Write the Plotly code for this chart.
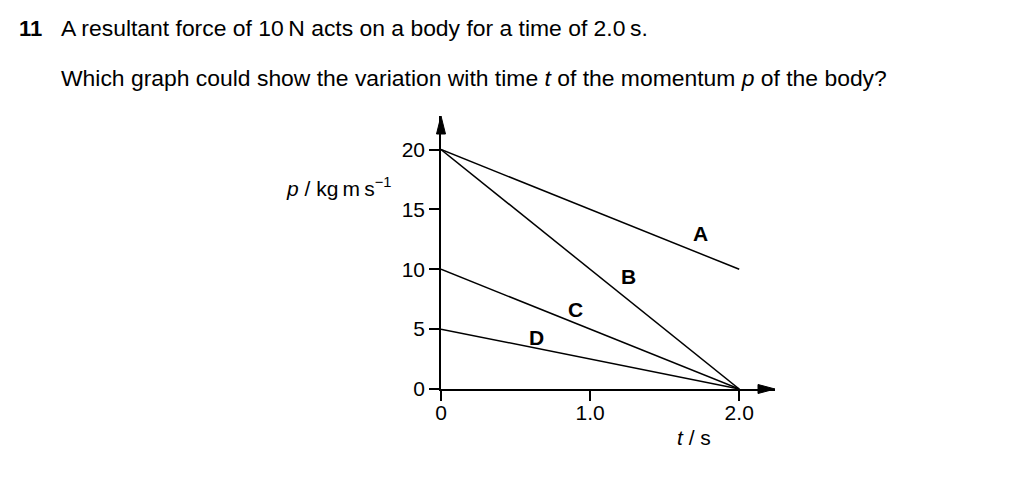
import plotly.graph_objects as go

# Data
t_vals = [0.0, 2.0]
lines = {
    "A": [20, 10],
    "B": [20, 0],
    "C": [10, 0],
    "D": [5, 0],
}
label_pos = {"A": (1.74, 13.0), "B": (1.26, 9.4), "C": (0.90, 6.6), "D": (0.64, 4.3)}
x_ticks = [0, 1, 2]
x_ticktext = ["0", "1.0", "2.0"]
y_ticks = [0, 5, 10, 15, 20]
y_ticktext = ["0", "5", "10", "15", "20"]

W, H = 1024, 480
OFF = 8  # page body margin
# plot area in screen pixels
SX0, SX1, SY0, SY1 = 441, 775, 116, 389
L = SX0 - OFF
T = SY0 - OFF
R = W - (SX1 - OFF)
B = H - (SY1 - OFF)
PW, PH = W - L - R, H - T - B
XMAX, YMAX = 2.24, 22.8
FONT = "Liberation Sans, Arial, Helvetica, sans-serif"


def px(x):
    return (x - SX0) / PW


def py(y):
    return (SY1 - y) / PH


fig = go.Figure()
for name, vals in lines.items():
    fig.add_trace(go.Scatter(x=t_vals, y=vals, mode="lines",
                             line=dict(color="black", width=1.5),
                             showlegend=False, hoverinfo="skip", cliponaxis=False))

for name, (lx, ly) in label_pos.items():
    fig.add_annotation(x=lx, y=ly, xref="x", yref="y", text=f"<b>{name}</b>",
                       showarrow=False, font=dict(family=FONT, size=21, color="black"))

# arrowheads at the ends of the axes (pixel-sized triangles, anchored at the axis ends)
fig.add_shape(type="path", xref="paper", yref="paper", xsizemode="pixel", ysizemode="pixel",
              xanchor=1, yanchor=0, path="M0,0 L-17,4.5 L-17,-4.5 Z",
              fillcolor="black", line=dict(color="black", width=1))
fig.add_shape(type="path", xref="paper", yref="paper", xsizemode="pixel", ysizemode="pixel",
              xanchor=0, yanchor=1, path="M0,0 L-4.5,-18 L4.5,-18 Z",
              fillcolor="black", line=dict(color="black", width=1))

# texts
fig.add_annotation(x=px(17), y=py(28), xref="paper", yref="paper", xanchor="left", yanchor="middle",
                   text="<b>11</b>", showarrow=False, font=dict(family=FONT, size=22, color="black"))
fig.add_annotation(x=px(59), y=py(28), xref="paper", yref="paper", xanchor="left", yanchor="middle",
                   text="A resultant force of 10\u2009N acts on a body for a time of 2.0\u2009s.",
                   showarrow=False, font=dict(family=FONT, size=22.9, color="black"))
fig.add_annotation(x=px(59), y=py(78), xref="paper", yref="paper", xanchor="left", yanchor="middle",
                   text="Which graph could show the variation with time <i>t</i> of the momentum <i>p</i> of the body?",
                   showarrow=False, font=dict(family=FONT, size=22.9, color="black"))
fig.add_annotation(x=px(394), y=py(187), xref="paper", yref="paper", xanchor="right", yanchor="middle",
                   text="<i>p</i> / kg\u2009m\u2009s<sup>\u22121</sup>",
                   showarrow=False, font=dict(family=FONT, size=21, color="black"))
fig.add_annotation(x=px(694), y=py(437), xref="paper", yref="paper", xanchor="center", yanchor="middle",
                   text="<i>t</i> / s",
                   showarrow=False, font=dict(family=FONT, size=21, color="black"))

axis_common = dict(showgrid=False, zeroline=False, showline=True, linecolor="black", linewidth=1.5,
                   ticks="outside", ticklen=10, tickwidth=1.5, tickcolor="black",
                   tickfont=dict(family=FONT, size=21, color="black"), fixedrange=True)
fig.update_xaxes(range=[0, XMAX], tickvals=x_ticks, ticktext=x_ticktext, ticklabelstandoff=-6, **axis_common)
fig.update_yaxes(range=[0, YMAX], tickvals=y_ticks, ticktext=y_ticktext, **axis_common)

fig.update_layout(width=W, height=H, margin=dict(l=L, r=R, t=T, b=B),
                  paper_bgcolor="white", plot_bgcolor="white")
fig.write_html("out.html")
